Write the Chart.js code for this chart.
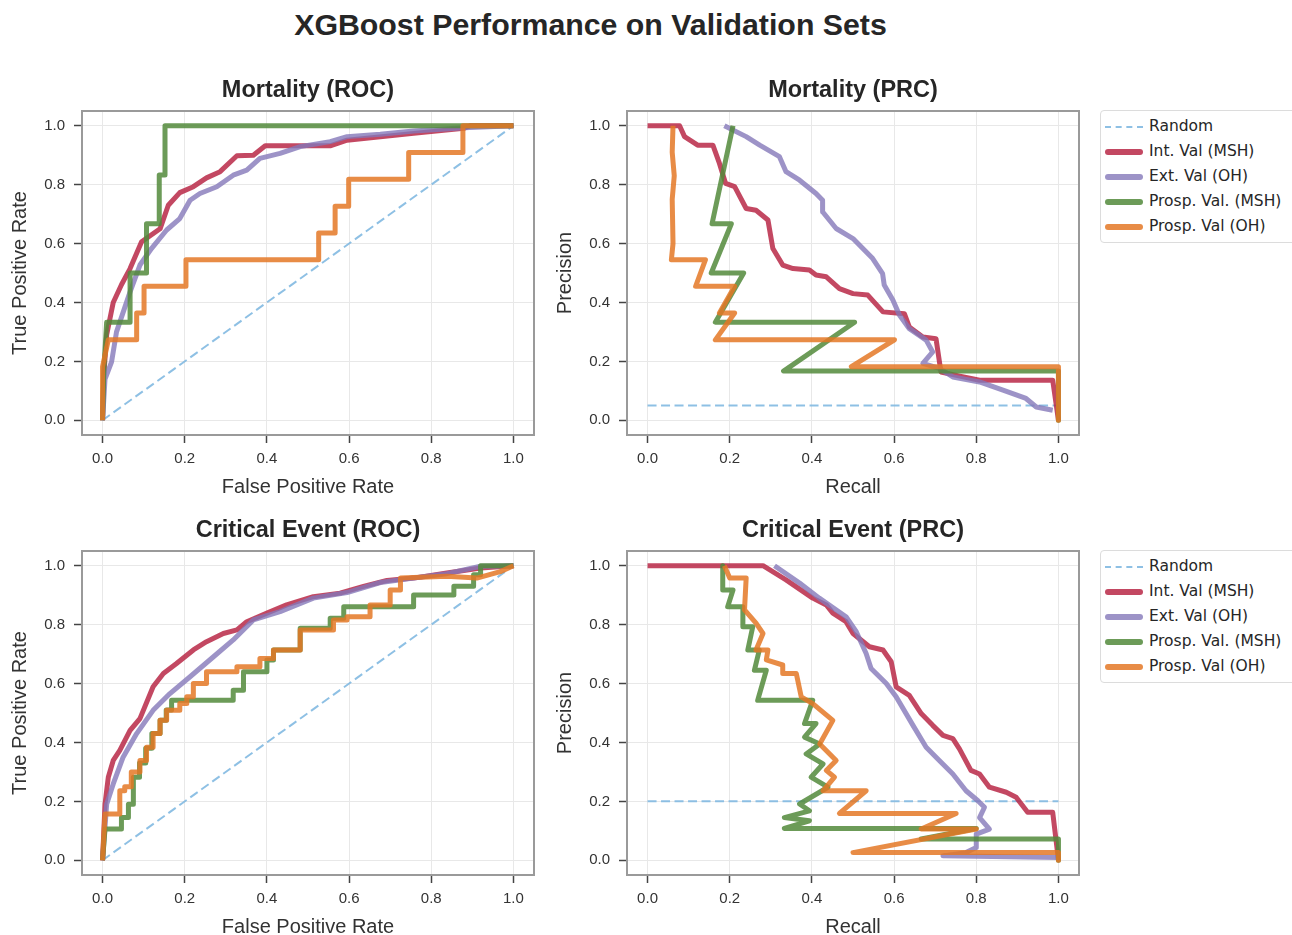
<!DOCTYPE html>
<html lang="en">
<head>
<meta charset="UTF-8">
<title>XGBoost Performance on Validation Sets</title>
<script src="https://cdn.jsdelivr.net/npm/chart.js"></script>
<style>
  body { margin: 0; background: #fff; font-family: "Liberation Sans", Arial, sans-serif; }
  #page { position: relative; width: 1292px; height: 935px; overflow: hidden; }
  canvas { position: absolute; }
  #mainTitle { position: absolute; left: 0; top: 7px; width: 1181px; text-align: center;
               font-weight: bold; font-size: 30.3px; line-height: 36px; color: #262626; }
  .legend { position: absolute; left: 1100px; width: 200px; height: 131px; border: 1px solid #dcdcdc;
            border-radius: 4px; background: #fff; font-family: "DejaVu Sans", sans-serif;
            font-size: 15.5px; color: #262626; }
  .legend .row { position: absolute; left: 4px; height: 20px; line-height: 20px; white-space: nowrap; }
  .legend .swatch { display: inline-block; width: 38px; margin-right: 6px; vertical-align: middle; }
</style>
</head>
<body>
<div id="page">
  <div id="mainTitle">XGBoost Performance on Validation Sets</div>
  <canvas id="mortRoc" width="545" height="435" style="left:0;top:70px"></canvas>
  <canvas id="mortPrc" width="545" height="435" style="left:545px;top:70px"></canvas>
  <canvas id="critRoc" width="545" height="435" style="left:0;top:510px"></canvas>
  <canvas id="critPrc" width="545" height="435" style="left:545px;top:510px"></canvas>
  <div class="legend" id="legendTop" style="top:110px"></div>
  <div class="legend" id="legendBottom" style="top:550px"></div>
</div>

<script>
// ---- data ----
const seriesNames = ['Random', 'Int. Val (MSH)', 'Ext. Val (OH)', 'Prosp. Val. (MSH)', 'Prosp. Val (OH)'];
const panelTitles = ['Mortality (ROC)', 'Mortality (PRC)', 'Critical Event (ROC)', 'Critical Event (PRC)'];
const tickValues = [0, 0.2, 0.4, 0.6, 0.8, 1.0];

// Mortality ROC
const mortRocRandomX = [0, 1];
const mortRocRandomY = [0, 1];
const mortRocIntX = [0, 0.003, 0.01, 0.026, 0.046, 0.067, 0.095, 0.14, 0.16, 0.188, 0.221, 0.253, 0.286, 0.327, 0.367, 0.396, 0.554, 0.595, 0.757, 0.879, 0.895, 1.0];
const mortRocIntY = [0, 0.15, 0.29, 0.40, 0.46, 0.515, 0.606, 0.65, 0.73, 0.773, 0.793, 0.823, 0.844, 0.898, 0.9, 0.932, 0.932, 0.951, 0.974, 0.991, 1.0, 1.0];
const mortRocExtX = [0, 0.006, 0.022, 0.034, 0.067, 0.091, 0.119, 0.156, 0.188, 0.213, 0.237, 0.278, 0.318, 0.351, 0.383, 0.432, 0.481, 0.554, 0.595, 0.676, 0.757, 0.879, 1.0];
const mortRocExtY = [0, 0.14, 0.198, 0.30, 0.436, 0.527, 0.583, 0.646, 0.685, 0.747, 0.77, 0.793, 0.832, 0.849, 0.889, 0.906, 0.929, 0.946, 0.963, 0.971, 0.982, 0.993, 1.0];
const mortRocProspMshX = [0, 0.003, 0.01, 0.067, 0.067, 0.107, 0.107, 0.138, 0.138, 0.152, 0.152, 1.0];
const mortRocProspMshY = [0, 0.167, 0.333, 0.333, 0.5, 0.5, 0.667, 0.667, 0.833, 0.833, 1.0, 1.0];
const mortRocProspOhX = [0, 0, 0.014, 0.083, 0.083, 0.101, 0.101, 0.203, 0.203, 0.526, 0.526, 0.566, 0.566, 0.599, 0.599, 0.745, 0.745, 0.877, 0.877, 1.0];
const mortRocProspOhY = [0, 0.182, 0.273, 0.273, 0.364, 0.364, 0.455, 0.455, 0.545, 0.545, 0.636, 0.636, 0.727, 0.727, 0.818, 0.818, 0.909, 0.909, 1.0, 1.0];

// Mortality PRC
const mortPrcRandomX = [0, 1];
const mortPrcRandomY = [0.05, 0.05];
const mortPrcIntX = [0, 0.078, 0.09, 0.122, 0.159, 0.175, 0.19, 0.212, 0.24, 0.264, 0.293, 0.305, 0.329, 0.354, 0.394, 0.41, 0.435, 0.467, 0.5, 0.536, 0.573, 0.625, 0.637, 0.67, 0.702, 0.714, 0.76, 0.808, 0.986, 1.0];
const mortPrcIntY = [1.0, 1.0, 0.963, 0.934, 0.934, 0.872, 0.804, 0.793, 0.719, 0.713, 0.68, 0.583, 0.527, 0.515, 0.51, 0.493, 0.487, 0.447, 0.43, 0.425, 0.368, 0.362, 0.317, 0.283, 0.277, 0.164, 0.15, 0.136, 0.136, 0.0];
const mortPrcExtX = [0.187, 0.24, 0.273, 0.321, 0.337, 0.37, 0.41, 0.426, 0.426, 0.459, 0.5, 0.548, 0.572, 0.576, 0.597, 0.613, 0.637, 0.678, 0.694, 0.67, 0.71, 0.743, 0.808, 0.865, 0.921, 0.946, 0.986];
const mortPrcExtY = [1.0, 0.963, 0.934, 0.895, 0.844, 0.815, 0.77, 0.747, 0.708, 0.651, 0.617, 0.549, 0.498, 0.459, 0.408, 0.357, 0.311, 0.272, 0.232, 0.193, 0.176, 0.147, 0.13, 0.102, 0.074, 0.045, 0.034];
const mortPrcProspMshX = [0.208, 0.157, 0.204, 0.155, 0.234, 0.165, 0.504, 0.331, 1.0, 1.0];
const mortPrcProspMshY = [1.0, 0.667, 0.667, 0.5, 0.5, 0.333, 0.333, 0.167, 0.167, 0.0];
const mortPrcProspOhX = [0.062, 0.06, 0.065, 0.06, 0.062, 0.058, 0.141, 0.117, 0.212, 0.175, 0.212, 0.165, 0.601, 0.496, 1.0, 1.0];
const mortPrcProspOhY = [1.0, 0.91, 0.83, 0.75, 0.6, 0.545, 0.545, 0.455, 0.455, 0.364, 0.364, 0.273, 0.273, 0.182, 0.182, 0.0];

// Critical event ROC
const critRocRandomX = [0, 1];
const critRocRandomY = [0, 1];
const critRocIntX = [0, 0.006, 0.014, 0.026, 0.042, 0.067, 0.091, 0.123, 0.148, 0.18, 0.221, 0.253, 0.294, 0.327, 0.351, 0.4, 0.448, 0.513, 0.578, 0.635, 0.692, 0.757, 0.838, 0.92, 1.0];
const critRocIntY = [0, 0.19, 0.282, 0.339, 0.373, 0.441, 0.481, 0.589, 0.634, 0.668, 0.714, 0.742, 0.77, 0.782, 0.81, 0.839, 0.867, 0.895, 0.907, 0.93, 0.95, 0.958, 0.975, 0.992, 1.0];
const critRocExtX = [0, 0.01, 0.026, 0.05, 0.083, 0.123, 0.164, 0.213, 0.27, 0.318, 0.367, 0.432, 0.513, 0.595, 0.676, 0.757, 0.838, 0.92, 1.0];
const critRocExtY = [0, 0.19, 0.259, 0.35, 0.43, 0.509, 0.566, 0.623, 0.691, 0.748, 0.816, 0.844, 0.89, 0.909, 0.943, 0.958, 0.973, 0.998, 1.0];
const critRocProspMshX = [0, 0.006, 0.046, 0.046, 0.063, 0.063, 0.075, 0.075, 0.09, 0.09, 0.105, 0.105, 0.12, 0.12, 0.14, 0.14, 0.155, 0.155, 0.168, 0.168, 0.318, 0.318, 0.343, 0.343, 0.4, 0.4, 0.416, 0.416, 0.481, 0.481, 0.554, 0.554, 0.587, 0.587, 0.757, 0.757, 0.855, 0.855, 0.903, 0.903, 0.92, 0.92, 1.0];
const critRocProspMshY = [0, 0.106, 0.106, 0.145, 0.145, 0.19, 0.19, 0.282, 0.282, 0.33, 0.33, 0.38, 0.38, 0.43, 0.43, 0.475, 0.475, 0.51, 0.51, 0.543, 0.543, 0.577, 0.577, 0.64, 0.64, 0.68, 0.68, 0.714, 0.714, 0.788, 0.788, 0.822, 0.822, 0.861, 0.861, 0.901, 0.901, 0.93, 0.93, 0.969, 0.969, 1.0, 1.0];
const critRocProspOhX = [0, 0.006, 0.042, 0.042, 0.054, 0.054, 0.07, 0.07, 0.091, 0.091, 0.107, 0.107, 0.123, 0.123, 0.14, 0.14, 0.156, 0.156, 0.188, 0.188, 0.205, 0.205, 0.221, 0.221, 0.253, 0.253, 0.327, 0.327, 0.383, 0.383, 0.416, 0.416, 0.481, 0.481, 0.562, 0.562, 0.595, 0.595, 0.651, 0.651, 0.7, 0.7, 0.725, 0.725, 0.838, 0.911, 0.968, 1.0];
const critRocProspOhY = [0, 0.157, 0.157, 0.236, 0.236, 0.25, 0.25, 0.3, 0.3, 0.339, 0.339, 0.384, 0.384, 0.43, 0.43, 0.475, 0.475, 0.509, 0.509, 0.532, 0.532, 0.555, 0.555, 0.6, 0.6, 0.64, 0.64, 0.657, 0.657, 0.685, 0.685, 0.714, 0.714, 0.782, 0.782, 0.816, 0.816, 0.827, 0.827, 0.867, 0.867, 0.918, 0.918, 0.958, 0.964, 0.958, 0.98, 1.0];

// Critical event PRC
const critPrcRandomX = [0, 1];
const critPrcRandomY = [0.2, 0.2];
const critPrcIntX = [0, 0.281, 0.337, 0.402, 0.435, 0.451, 0.483, 0.5, 0.54, 0.573, 0.593, 0.605, 0.637, 0.666, 0.694, 0.719, 0.743, 0.759, 0.787, 0.808, 0.832, 0.873, 0.897, 0.925, 0.986, 1.0];
const critPrcIntY = [1.0, 1.0, 0.952, 0.89, 0.867, 0.839, 0.81, 0.77, 0.725, 0.714, 0.674, 0.589, 0.56, 0.498, 0.458, 0.424, 0.413, 0.378, 0.305, 0.293, 0.248, 0.231, 0.214, 0.163, 0.163, 0.0];
const critPrcExtX = [0.309, 0.37, 0.418, 0.483, 0.508, 0.532, 0.544, 0.581, 0.605, 0.646, 0.678, 0.71, 0.743, 0.775, 0.804, 0.82, 0.808, 0.832, 0.8, 0.8, 0.775, 0.719, 1.0];
const critPrcExtY = [1.0, 0.941, 0.89, 0.827, 0.776, 0.702, 0.651, 0.6, 0.555, 0.458, 0.384, 0.339, 0.293, 0.236, 0.202, 0.18, 0.145, 0.106, 0.089, 0.043, 0.026, 0.015, 0.009];
const critPrcProspMshX = [0.183, 0.183, 0.208, 0.195, 0.232, 0.232, 0.256, 0.244, 0.272, 0.26, 0.289, 0.268, 0.402, 0.382, 0.41, 0.382, 0.419, 0.386, 0.427, 0.398, 0.439, 0.37, 0.394, 0.333, 0.394, 0.333, 0.8, 0.666, 1.0, 1.0];
const critPrcProspMshY = [1.0, 0.918, 0.918, 0.861, 0.861, 0.793, 0.793, 0.714, 0.714, 0.645, 0.645, 0.543, 0.543, 0.464, 0.464, 0.418, 0.395, 0.361, 0.327, 0.282, 0.248, 0.191, 0.168, 0.145, 0.134, 0.108, 0.108, 0.072, 0.072, 0.0];
const critPrcProspOhX = [0.187, 0.2, 0.24, 0.236, 0.264, 0.281, 0.264, 0.293, 0.289, 0.329, 0.329, 0.362, 0.374, 0.402, 0.451, 0.419, 0.459, 0.435, 0.455, 0.427, 0.532, 0.467, 0.751, 0.666, 0.8, 0.5, 1.0, 1.0];
const critPrcProspOhY = [1.0, 0.958, 0.958, 0.85, 0.805, 0.77, 0.714, 0.714, 0.68, 0.663, 0.634, 0.634, 0.555, 0.532, 0.475, 0.395, 0.339, 0.305, 0.282, 0.236, 0.236, 0.159, 0.159, 0.106, 0.106, 0.026, 0.026, 0.0];

// ---- styling ----
const lineColors = ['rgba(130,185,225,0.9)', 'rgba(184,40,70,0.85)', 'rgba(132,120,185,0.8)', 'rgba(82,138,59,0.85)', 'rgba(228,120,38,0.85)'];

function series(i, xs, ys) {
    const dashed = i === 0;
    return {
        label: seriesNames[i],
        data: xs.map((x, k) => ({ x: x, y: ys[k] })),
        borderColor: lineColors[i],
        borderWidth: dashed ? 2 : 5,
        borderDash: dashed ? [9, 4.5] : [],
        borderJoinStyle: 'round',
        pointRadius: 0,
        tension: 0,
        fill: false,
        order: 5 - i,   // orange on top, random at the bottom
        clip: 10
    };
}

function axis(label, dir) {
    return {
        type: 'linear', min: -0.05, max: 1.05,
        afterBuildTicks: s => { s.ticks = tickValues.map(v => ({ value: v })); },
        afterFit: s => { if (dir === 'x') s.height = 70; else s.width = 82; },
        ticks: {
            color: '#333', padding: dir === 'x' ? 7 : 9,
            font: { family: 'Liberation Sans', size: 15 },
            callback: v => Number(v).toFixed(1)
        },
        grid: { color: '#e8e8e8', lineWidth: 1, tickColor: '#444', tickLength: 8, tickWidth: 1.5 },
        border: { display: false },
        title: {
            display: true, text: label, color: '#333',
            font: { family: 'Liberation Sans', size: 20 },
            padding: dir === 'x' ? { top: 0, bottom: 6 } : { top: 8, bottom: 0 }
        }
    };
}

// grey frame round the plot area, like the spines
const frame = {
    id: 'frame',
    afterDatasetsDraw(chart) {
        const { ctx, chartArea: a } = chart;
        ctx.save();
        ctx.strokeStyle = '#9a9a9a';
        ctx.lineWidth = 2;
        ctx.strokeRect(a.left, a.top, a.right - a.left, a.bottom - a.top);
        ctx.restore();
    }
};

function makePanel(id, title, xTitle, yTitle, datasets) {
    new Chart(document.getElementById(id), {
        type: 'line',
        data: { datasets: datasets },
        options: {
            responsive: false,
            animation: false,
            layout: { padding: { top: 6, right: 11, bottom: 0, left: 0 } },
            plugins: {
                legend: { display: false },
                tooltip: { enabled: false },
                title: {
                    display: true, text: title, fullSize: false, color: '#262626',
                    font: { family: 'Liberation Sans', size: 23.5, weight: 'bold' },
                    padding: { top: 0, bottom: 6.8 }
                }
            },
            scales: { x: axis(xTitle, 'x'), y: axis(yTitle, 'y') }
        },
        plugins: [frame]
    });
}

makePanel('mortRoc', panelTitles[0], 'False Positive Rate', 'True Positive Rate', [
    series(0, mortRocRandomX, mortRocRandomY),
    series(1, mortRocIntX, mortRocIntY),
    series(2, mortRocExtX, mortRocExtY),
    series(3, mortRocProspMshX, mortRocProspMshY),
    series(4, mortRocProspOhX, mortRocProspOhY)
]);
makePanel('mortPrc', panelTitles[1], 'Recall', 'Precision', [
    series(0, mortPrcRandomX, mortPrcRandomY),
    series(1, mortPrcIntX, mortPrcIntY),
    series(2, mortPrcExtX, mortPrcExtY),
    series(3, mortPrcProspMshX, mortPrcProspMshY),
    series(4, mortPrcProspOhX, mortPrcProspOhY)
]);
makePanel('critRoc', panelTitles[2], 'False Positive Rate', 'True Positive Rate', [
    series(0, critRocRandomX, critRocRandomY),
    series(1, critRocIntX, critRocIntY),
    series(2, critRocExtX, critRocExtY),
    series(3, critRocProspMshX, critRocProspMshY),
    series(4, critRocProspOhX, critRocProspOhY)
]);
makePanel('critPrc', panelTitles[3], 'Recall', 'Precision', [
    series(0, critPrcRandomX, critPrcRandomY),
    series(1, critPrcIntX, critPrcIntY),
    series(2, critPrcExtX, critPrcExtY),
    series(3, critPrcProspMshX, critPrcProspMshY),
    series(4, critPrcProspOhX, critPrcProspOhY)
]);

// legends next to the PRC panels
function buildLegend(id) {
    const box = document.getElementById(id);
    seriesNames.forEach((name, i) => {
        const row = document.createElement('div');
        row.className = 'row';
        row.style.top = (5 + i * 25) + 'px';
        const sw = document.createElement('span');
        sw.className = 'swatch';
        if (i === 0) {
            sw.style.borderTop = '2px dashed ' + lineColors[0];
        } else {
            sw.style.height = '6px';
            sw.style.borderRadius = '3px';
            sw.style.background = lineColors[i];
        }
        row.appendChild(sw);
        row.appendChild(document.createTextNode(name));
        box.appendChild(row);
    });
}
buildLegend('legendTop');
buildLegend('legendBottom');
</script>
</body>
</html>
